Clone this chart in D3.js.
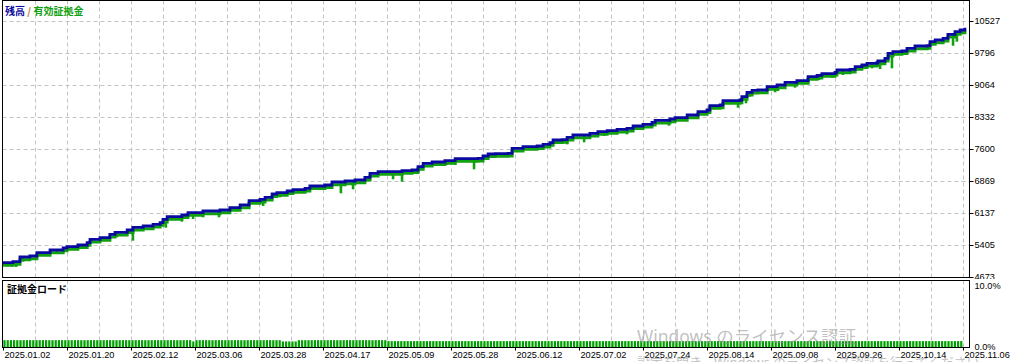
<!DOCTYPE html>
<head>
<meta charset="utf-8">
<title>Balance / Equity</title>
<style>
  body { margin: 0; background: #fff; }
  svg { display: block; }
</style>
</head>
<body>
<svg id="chart" width="1011" height="362"></svg>
<script src="https://cdn.jsdelivr.net/npm/d3@7/dist/d3.min.js"></script>
<script>
//-----------------------------DATA-----------------------------//
// x is deal number (MT5 draws the tester graph per deal, not per day)
var dealTicks = [0, 20, 40, 60, 80, 100, 120, 140, 160, 180, 200, 220, 240, 260, 280, 300];
var dateLabels = ["2025.01.02", "2025.01.20", "2025.02.12", "2025.03.06", "2025.03.28", "2025.04.17",
  "2025.05.09", "2025.05.28", "2025.06.12", "2025.07.02", "2025.07.24", "2025.08.14",
  "2025.09.08", "2025.09.26", "2025.10.14", "2025.11.06"];
var valueTicks = [10527, 9796, 9064, 8332, 7600, 6869, 6137, 5405, 4673];
var loadTicks = [10, 0];

// balance [deal, value]
var balance = [
  [0,5000],[3.1,5023],[5.3,5130],[8.4,5153],[10.6,5229],[14.7,5290],[18.8,5336],[20,5366],[23.4,5405],
  [26.3,5457],[27.2,5535],[30.3,5572],[33.4,5649],[35,5695],[38.8,5748],[40.6,5809],[43.8,5839],
  [46.9,5878],[49.1,5915],[50,5992],[51.3,6052],[55.9,6091],[57.8,6143],[62.5,6182],[67.8,6205],
  [70.9,6258],[74.1,6319],[76.9,6418],[80.3,6450],[81.9,6496],[84.1,6571],[85.6,6601],[88.8,6640],
  [90.6,6669],[94.4,6701],[95.9,6754],[100.6,6777],[102.8,6845],[106.9,6868],[110,6891],[113.1,6953],
  [114.7,7044],[117.2,7081],[124.7,7104],[127.8,7120],[129.7,7195],[131.3,7273],[134.1,7303],
  [138.1,7332],[141.3,7378],[148.4,7387],[150,7440],[151.6,7486],[153.8,7493],[157.8,7502],
  [159.1,7616],[162.5,7653],[166.9,7669],[168.8,7707],[170.9,7744],[171.9,7806],[174.7,7813],
  [176.3,7867],[178.1,7920],[183.4,7959],[185.9,7996],[188.8,8018],[191.9,8050],[195,8073],
  [196.9,8126],[200,8165],[202.8,8210],[203.8,8256],[208.4,8286],[210,8316],[213.8,8377],
  [217.2,8453],[220,8492],[220.9,8590],[224.1,8606],[225,8704],[230.3,8720],[230.9,8796],
  [232.5,8897],[234.1,8942],[235.9,8949],[238.8,9025],[241.9,9063],[244.4,9125],[248.1,9162],
  [251.6,9253],[254.4,9285],[255.9,9322],[260,9354],[260.6,9406],[264.7,9422],[266.3,9482],
  [268.4,9521],[270,9560],[273.1,9573],[273.4,9612],[275.6,9674],[276.6,9788],[278.1,9825],
  [280.9,9841],[282.5,9903],[285,9955],[288.8,9962],[289.7,10054],[291.3,10092],[293.8,10131],
  [295.3,10223],[297.5,10282],[299.1,10321],[300.6,10374]
];

// equity [deal, value]
var equity = [
  [0,4940],[3.1,4963],[5.3,5070],[8.4,5093],[10.6,5169],[14.7,5230],[18.8,5276],[20,5306],[23.4,5345],
  [26.3,5397],[27.2,5475],[30.3,5512],[33.4,5589],[35,5635],[38.8,5688],[40.6,5749],[43.8,5779],
  [46.9,5818],[49.1,5855],[50,5932],[51.3,5992],[55.9,6031],[57.8,6083],[62.5,6122],[67.8,6145],
  [70.9,6198],[74.1,6259],[76.9,6358],[80.3,6390],[81.9,6436],[84.1,6511],[85.6,6541],[88.8,6580],
  [90.6,6609],[94.4,6641],[95.9,6694],[100.6,6717],[102.8,6785],[106.9,6808],[110,6831],[113.1,6893],
  [114.7,6984],[117.2,7021],[124.7,7044],[127.8,7060],[129.7,7135],[131.3,7213],[134.1,7243],
  [138.1,7272],[141.3,7318],[148.4,7327],[150,7380],[151.6,7426],[153.8,7433],[157.8,7442],
  [159.1,7556],[162.5,7593],[166.9,7609],[168.8,7647],[170.9,7684],[171.9,7746],[174.7,7753],
  [176.3,7807],[178.1,7860],[183.4,7899],[185.9,7936],[188.8,7958],[191.9,7990],[195,8013],
  [196.9,8066],[200,8105],[202.8,8150],[203.8,8196],[208.4,8226],[210,8256],[213.8,8317],
  [217.2,8393],[220,8432],[220.9,8530],[224.1,8546],[225,8644],[230.3,8660],[230.9,8736],
  [232.5,8837],[234.1,8882],[235.9,8889],[238.8,8965],[241.9,9003],[244.4,9065],[248.1,9102],
  [251.6,9193],[254.4,9225],[255.9,9262],[260,9294],[260.6,9346],[264.7,9362],[266.3,9422],
  [268.4,9461],[270,9500],[273.1,9513],[273.4,9552],[275.6,9614],[276.6,9728],[278.1,9765],
  [280.9,9781],[282.5,9843],[285,9895],[288.8,9902],[289.7,9994],[291.3,10032],[293.8,10071],
  [295.3,10163],[297.5,10222],[299.1,10261],[300.6,10314]
];

// equity drawdown spikes [deal, lowest equity]
var equityDips = [
  [2.8,4909],[4.1,4902],[5,4970],[6.3,5023],[10.5,5176],[14.1,5199],[16.9,5199],[23,5313],[26.3,5366],
  [27.8,5457],[35.6,5581],[40.6,5503],[43.4,5732],[50.9,5800],[55.9,5938],[59.4,5999],[62.5,6038],
  [67.5,6038],[71.9,6205],[81.3,6297],[86.6,6496],[94.1,6601],[101.6,6701],[105.6,6587],[109.4,6678],
  [121.9,6907],[124.7,6852],[129.7,7058],[138.7,7234],[141.3,7234],[147.2,7136],[149.7,7310],
  [176.3,7707],[181.6,7753],[187.8,7897],[195,7936],[199.7,8057],[208.1,8133],[210.6,8240],
  [217.2,8339],[219.4,8377],[220.9,8416],[229.7,8544],[232.2,8645],[233.4,8796],[241.3,8897],
  [242.2,8926],[247.5,9002],[251.6,9102],[255,9178],[259.1,9230],[262.5,9292],[264.7,9331],
  [271.6,9445],[274.1,9429],[277.8,9445],[296.9,9962],[298.1,10054],[299.7,10223]
];

// margin load in %, one bar per deal (20 per row)
var marginLoad = [
  1.1,1.1,1.1,1.1,1.1,1.1,1.1,1.1,1.1,1.1,1.1,1.1,1.1,1.1,1.1,1.1,1.1,1.1,1.1,1.1,
  1.1,1.1,1.1,1.1,1.1,1.1,1.1,1.1,1.1,1.1,1.1,1.1,1.1,1.1,1.1,1.1,1.1,1.1,1.1,1.1,
  1.1,1.1,1.1,1.1,1.1,1.1,1.1,1.1,1.1,1.1,1.1,1.1,1.1,1.1,1.1,1.1,1.1,1.1,1.1,0.9,
  1.1,1.1,1.1,1.1,1.1,1.1,1.1,1.1,1.1,1.1,1.1,1.1,1.1,1.1,1.1,1.1,1.1,1.1,1.1,1.1,
  1.1,1.1,1.1,1.1,1.1,1.1,1.1,0.9,0.9,0.9,0.9,0.9,1.1,1.1,1.1,1.1,1.1,1.1,1.1,1.1,
  1.1,1.1,1.1,1.1,1.1,1.1,1.1,1.1,1.1,1.1,1.1,1.1,1.1,1.1,1.1,1.1,1.1,1.1,1.1,1.1,
  0.95,0.95,0.95,0.95,0.95,0.95,0.95,0.95,0.95,0.95,0.95,0.95,0.95,0.95,0.95,0.95,0.95,0.95,0.95,0.95,
  0.95,0.95,0.95,0.95,0.95,0.95,0.95,0.95,0.95,0.95,0.95,0.95,0.95,0.95,0.95,0.95,0.95,0.95,0.95,0.95,
  0.95,0.95,0.95,0.95,0.95,0.95,0.95,0.95,0.95,0.95,0.95,0.95,0.95,0.95,0.95,0.95,0.95,0.95,0.95,0.95,
  0.95,0.95,0.95,0.95,0.95,0.95,0.95,0.95,0.95,0.95,0.95,0.95,0.95,0.95,0.95,0.95,0.95,0.95,0.95,0.95,
  0.95,0.95,0.95,0.95,0.95,0.95,0.95,0.95,0.95,0.95,0.95,0.95,0.95,0.95,0.95,0.95,0.95,0.95,0.95,0.95,
  0.95,0.95,0.95,0.95,0.95,0.95,0.95,0.95,0.95,0.95,0.95,0.95,0.95,0.95,0.95,0.95,0.95,0.95,0.95,0.95,
  0.95,0.95,0.95,0.95,0.95,0.95,0.95,0.95,0.95,0.95,0.95,0.95,0.95,0.95,0.95,0.95,0.95,0.95,0.95,0.95,
  0.95,0.95,0.95,0.95,0.95,0.95,0.95,0.95,0.95,0.95,0.95,0.95,0.95,0.95,0.95,0.95,0.95,0.95,0.95,0.95,
  0.95,0.95,0.95,0.95,0.95,0.95,0.95,0.95,0.95,0.95,0.95,0.95,0.95,0.95,0.95,0.95,0.95,0.95,0.95,0.95
];

//-----------------------------SVG------------------------------//
var svg = d3.select("svg");
var left = 2.5, right = 969.5;
var mainTop = 0.5, mainBottom = 277.5;
var loadTop = 280.5, loadBottom = 347.5;

var x = d3.scaleLinear().domain([0, 302.1]).range([3, 969.7]);
var y = d3.scaleLinear().domain([4673, 10527]).range([277, 21]);
var yLoad = d3.scaleLinear().domain([0, 10]).range([347, 285]);

var numFont = "'Liberation Sans', Arial, sans-serif";
var jpFont = "'Noto Sans CJK JP', sans-serif";
var gridColor = "#c3c3c3";
var crisp = function (v) { return Math.round(v) + 0.5; };

//----------------------------MAIN PANEL------------------------//
var main = svg.append("g");

// horizontal grid
main.selectAll(".hgrid")
  .data(valueTicks.slice(0, -1))
  .enter().append("line")
  .attr("x1", left).attr("x2", right)
  .attr("y1", function (d) { return crisp(y(d)); })
  .attr("y2", function (d) { return crisp(y(d)); })
  .attr("stroke", gridColor).attr("stroke-dasharray", "4,3");

// vertical grid every 10 deals
var gridDeals = d3.range(10, 301, 10);
main.selectAll(".vgrid")
  .data(gridDeals)
  .enter().append("line")
  .attr("x1", function (d) { return crisp(x(d)); })
  .attr("x2", function (d) { return crisp(x(d)); })
  .attr("y1", mainTop).attr("y2", mainBottom)
  .attr("stroke", gridColor).attr("stroke-dasharray", "4,3");

// equity line
var line = d3.line()
  .curve(d3.curveStepAfter)
  .x(function (d) { return x(d[0]); })
  .y(function (d) { return y(d[1]); });

main.append("path")
  .datum(equity)
  .attr("d", line)
  .attr("fill", "none")
  .attr("stroke", "#10a010")
  .attr("stroke-width", 3);

// equity spikes, hanging from the balance level at that deal
var bis = d3.bisector(function (d) { return d[0]; }).right;
function levelAt(series, deal) {
  var i = Math.max(0, bis(series, deal) - 1);
  return series[i][1];
}
main.selectAll(".dip")
  .data(equityDips.filter(function (d) { return d[1] < levelAt(balance, d[0]); }))
  .enter().append("line")
  .attr("x1", function (d) { return x(d[0]); })
  .attr("x2", function (d) { return x(d[0]); })
  .attr("y1", function (d) { return y(levelAt(balance, d[0])); })
  .attr("y2", function (d) { return y(Math.min(d[1], levelAt(equity, d[0]))); })
  .attr("stroke", "#10a010")
  .attr("stroke-width", 2.6);

// balance line
main.append("path")
  .datum(balance)
  .attr("d", line)
  .attr("fill", "none")
  .attr("stroke", "#0a0aa0")
  .attr("stroke-width", 2.8);

// border
main.append("rect")
  .attr("x", left).attr("y", mainTop)
  .attr("width", right - left).attr("height", mainBottom - mainTop)
  .attr("fill", "none").attr("stroke", "#000");

// y axis ticks and labels
main.selectAll(".ytick")
  .data(valueTicks)
  .enter().append("line")
  .attr("x1", right).attr("x2", right + 4)
  .attr("y1", function (d) { return crisp(y(d)); })
  .attr("y2", function (d) { return crisp(y(d)); })
  .attr("stroke", "#000");
main.selectAll(".ylabel")
  .data(valueTicks)
  .enter().append("text")
  .attr("x", 974.5)
  .attr("y", function (d) { return y(d); })
  .attr("dy", "0.36em")
  .style("font", "9.2px " + numFont)
  .attr("fill", "#000")
  .text(function (d) { return d; });

// legend
var legend = main.append("text")
  .attr("x", 5).attr("y", 15)
  .style("font", "bold 10px " + jpFont);
legend.append("tspan").attr("fill", "#0a0aa0").text("残高");
legend.append("tspan").attr("fill", "#c08030").text(" / ");
legend.append("tspan").attr("fill", "#10a010").text("有効証拠金");

//----------------------------LOAD PANEL------------------------//
var load = svg.append("g");

load.append("rect")
  .attr("x", 0).attr("y", 279).attr("width", 1011).attr("height", 69)
  .attr("fill", "#fff");

load.selectAll(".vgrid")
  .data(gridDeals)
  .enter().append("line")
  .attr("x1", function (d) { return crisp(x(d)); })
  .attr("x2", function (d) { return crisp(x(d)); })
  .attr("y1", loadTop).attr("y2", loadBottom)
  .attr("stroke", gridColor).attr("stroke-dasharray", "4,3");

load.selectAll(".bar")
  .data(marginLoad)
  .enter().append("rect")
  .attr("x", function (d, i) { return x(i) + 0.4; })
  .attr("width", 2.2)
  .attr("y", function (d) { return yLoad(d); })
  .attr("height", function (d) { return yLoad(0) - yLoad(d); })
  .attr("fill", "#00a000");

load.append("rect")
  .attr("x", left).attr("y", loadTop)
  .attr("width", right - left).attr("height", loadBottom - loadTop)
  .attr("fill", "none").attr("stroke", "#000");

load.selectAll(".ltick")
  .data(loadTicks)
  .enter().append("text")
  .attr("x", 974.5)
  .attr("y", function (d) { return d === 10 ? 285.5 : yLoad(d); })
  .attr("dy", "0.36em")
  .style("font", "9.2px " + numFont)
  .attr("fill", "#000")
  .text(function (d) { return d.toFixed(1) + "%"; });

load.append("text")
  .attr("x", 7).attr("y", 293)
  .style("font", "bold 10px " + jpFont)
  .attr("fill", "#000")
  .text("証拠金ロード");

//-----------------------------X AXIS---------------------------//
var xaxis = svg.append("g");
xaxis.selectAll(".xtick")
  .data(dealTicks)
  .enter().append("line")
  .attr("x1", function (d) { return crisp(x(d)); })
  .attr("x2", function (d) { return crisp(x(d)); })
  .attr("y1", loadBottom).attr("y2", loadBottom + 3)
  .attr("stroke", "#000");
xaxis.selectAll(".xlabel")
  .data(dealTicks)
  .enter().append("text")
  .attr("x", function (d) { return x(d) + 1.5; })
  .attr("y", 357.5)
  .style("font", "9.2px " + numFont)
  .attr("fill", "#000")
  .text(function (d, i) { return dateLabels[i]; });

//----------------------------WATERMARK-------------------------//
svg.append("text")
  .attr("x", 637).attr("y", 343)
  .style("font", "17.5px " + "'Noto Sans', " + jpFont)
  .attr("fill", "rgba(140,140,140,0.55)")
  .text("Windows のライセンス認証");
svg.append("text")
  .attr("x", 637).attr("y", 367)
  .style("font", "13px " + "'Noto Sans', " + jpFont)
  .attr("fill", "rgba(140,140,140,0.55)")
  .text("設定を開き、Windows のライセンス認証を行ってください。");
</script>
</body>
